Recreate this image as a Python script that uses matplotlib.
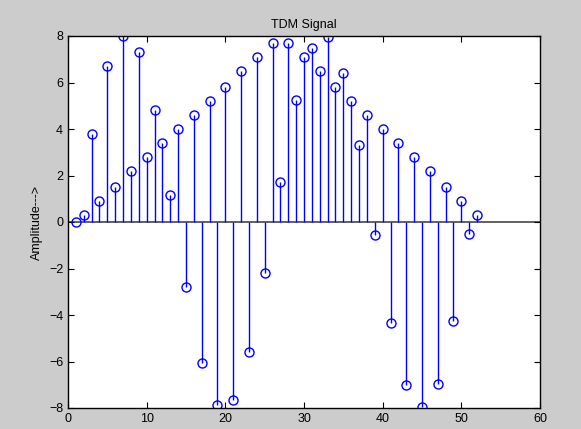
import numpy as np
import matplotlib
matplotlib.use('Agg')
import matplotlib.pyplot as plt

plt.rcParams['font.family'] = ['Liberation Sans', 'DejaVu Sans']

# sample index and amplitude
n = np.arange(1, 53)
amp = [0.0, 0.3, 3.8, 0.9, 6.7, 1.5, 8.0, 2.2, 7.3, 2.8,
       4.8, 3.4, 1.15, 4.0, -2.8, 4.6, -6.05, 5.2, -7.85, 5.8,
       -7.65, 6.5, -5.6, 7.1, -2.2, 7.7, 1.7, 7.7, 5.25, 7.1,
       7.5, 6.5, 7.95, 5.8, 6.4, 5.2, 3.3, 4.6, -0.55, 4.0,
       -4.35, 3.4, -7.0, 2.8, -7.95, 2.2, -6.95, 1.5, -4.25, 0.9,
       -0.5, 0.3]
xticks = [0, 10, 20, 30, 40, 50, 60]
yticks = [-8, -6, -4, -2, 0, 2, 4, 6, 8]

fig = plt.figure(figsize=(5.81, 4.29), dpi=100)
fig.patch.set_facecolor('#cccccc')
ax = fig.add_axes([68/581, 21/429, 472/581, 372/429])
ax.set_facecolor('white')

ml, sl, bl = ax.stem(n, amp, basefmt=' ')
plt.setp(sl, color='blue', linewidth=1)
plt.setp(ml, color='blue', marker='o', markersize=6.5,
         markerfacecolor='none', markeredgewidth=1)
# baseline at zero
ax.axhline(0, color='#555555', linewidth=1.3, zorder=1)

ax.set_xlim(0, 60)
ax.set_ylim(-8, 8)
ax.set_xticks(xticks)
ax.set_yticks(yticks)
ax.tick_params(direction='in', top=True, right=True, labelsize=9, length=4)
for s in ax.spines.values():
    s.set_linewidth(1)
ax.set_title('TDM Signal', fontsize=9, pad=6)
ax.set_ylabel('Amplitude--->', fontsize=9)

plt.savefig('out.png', dpi=100, facecolor=fig.get_facecolor())
